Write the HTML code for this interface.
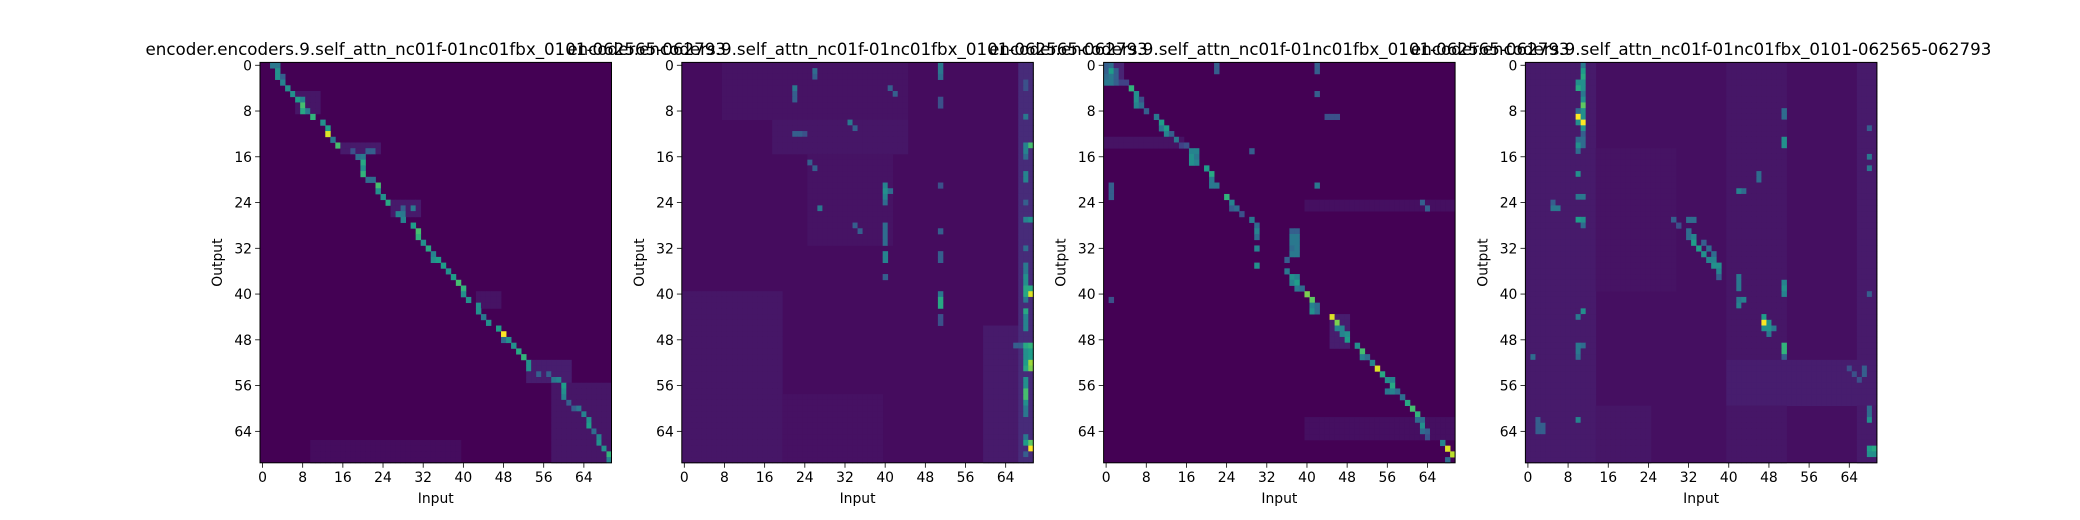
<!DOCTYPE html>
<html><head><meta charset="utf-8">
<style>
html,body{margin:0;padding:0;background:#fff;}
svg{display:block;font-family:"DejaVu Sans","Liberation Sans",sans-serif;}
</style></head>
<body>
<svg id="fig" width="2080" height="520" viewBox="0 0 2080 520" xmlns="http://www.w3.org/2000/svg"></svg>
<script>
// ---- data ----
const nRows = 70;
const nCols = 70;
const tickValues = [0, 8, 16, 24, 32, 40, 48, 56, 64];
const titleText = "encoder.encoders.9.self_attn_nc01f-01nc01fbx_0101-062565-062793";
const baseValues = [0.0, 0.03, 0.0, 0.04];
// blocks: [rowStart,rowEnd,colStart,colEnd,value]
const p1Blocks = [[5,9,7,12,0.06],[14,16,16,24,0.07],[24,27,26,32,0.07],[40,43,43,48,0.05],[52,56,53,62,0.08],[56,70,58,70,0.06],[66,70,10,40,0.03]];
const p2Blocks = [[0,10,8,45,0.05],[10,16,18,45,0.06],[16,32,25,42,0.05],[40,70,0,20,0.06],[46,70,60,68,0.07],[0,70,67,70,0.12],[58,70,20,40,0.045]];
const p3Blocks = [[0,4,0,4,0.1],[13,15,0,16,0.05],[44,50,45,49,0.08],[62,66,40,70,0.04],[24,26,40,70,0.04]];
const p4Blocks = [[0,70,0,14,0.07],[0,70,40,52,0.06],[52,60,40,70,0.08],[60,70,0,25,0.06],[15,40,14,30,0.05],[0,70,66,70,0.07]];
// cells: [row,col,value]
const p1Cells = [[0,2,0.4],[0,3,0.4],[1,3,0.5],[2,3,0.5],[2,4,0.3],[3,4,0.45],[4,5,0.5],[5,6,0.5],[6,7,0.55],[6,8,0.45],[7,8,0.7],[8,8,0.6],[8,9,0.4],[9,10,0.65],[10,12,0.5],[11,13,0.55],[12,13,0.95],[13,14,0.4],[14,15,0.7],[15,18,0.25],[15,21,0.3],[15,22,0.3],[16,19,0.35],[16,20,0.4],[17,20,0.6],[18,20,0.5],[19,20,0.65],[20,21,0.35],[20,22,0.35],[21,23,0.7],[22,23,0.5],[23,24,0.5],[24,25,0.6],[25,28,0.3],[25,30,0.4],[26,27,0.45],[26,28,0.4],[27,28,0.45],[28,30,0.55],[29,31,0.7],[30,31,0.65],[31,32,0.5],[32,33,0.6],[33,34,0.45],[34,34,0.5],[34,35,0.55],[35,36,0.55],[36,37,0.5],[37,38,0.55],[38,39,0.7],[39,40,0.65],[40,40,0.5],[41,41,0.5],[42,43,0.5],[43,43,0.5],[44,44,0.4],[45,45,0.5],[46,47,0.55],[47,48,1.0],[48,48,0.35],[48,49,0.5],[49,50,0.5],[50,51,0.6],[51,52,0.65],[52,53,0.5],[53,53,0.5],[54,55,0.3],[54,57,0.3],[55,58,0.4],[55,59,0.45],[56,60,0.55],[57,60,0.5],[58,60,0.45],[59,61,0.3],[60,62,0.3],[60,63,0.4],[61,64,0.45],[62,65,0.5],[63,65,0.55],[64,66,0.35],[65,67,0.45],[66,67,0.5],[67,68,0.5],[68,69,0.65],[69,69,0.45]];
const p2Cells = [[3,68,0.25],[4,68,0.25],[9,68,0.4],[14,68,0.45],[14,69,0.7],[15,68,0.45],[16,68,0.35],[19,68,0.45],[20,68,0.45],[24,68,0.3],[27,68,0.45],[27,69,0.5],[32,68,0.35],[35,68,0.4],[36,68,0.4],[37,68,0.5],[38,68,0.5],[39,68,0.6],[39,69,0.6],[40,68,0.6],[40,69,0.95],[41,68,0.4],[43,68,0.6],[44,68,0.45],[45,68,0.45],[46,68,0.45],[49,66,0.3],[49,67,0.3],[49,68,0.6],[49,69,0.65],[50,68,0.5],[50,69,0.55],[51,68,0.5],[51,69,0.55],[52,68,0.55],[52,69,0.85],[53,68,0.6],[53,69,0.8],[55,68,0.5],[56,68,0.5],[57,68,0.7],[58,68,0.7],[59,68,0.5],[60,68,0.4],[61,68,0.4],[65,68,0.4],[66,68,0.55],[66,69,0.75],[67,69,1.0],[68,68,0.3],[0,51,0.4],[1,51,0.4],[2,51,0.35],[6,51,0.25],[7,51,0.25],[21,51,0.25],[29,51,0.3],[33,51,0.3],[34,51,0.3],[40,51,0.4],[41,51,0.6],[42,51,0.6],[44,51,0.25],[45,51,0.25],[21,40,0.45],[22,40,0.5],[23,40,0.45],[22,41,0.35],[24,40,0.35],[28,40,0.35],[29,40,0.35],[30,40,0.35],[31,40,0.35],[33,40,0.45],[34,40,0.45],[37,40,0.3],[4,41,0.3],[5,42,0.3],[4,22,0.4],[5,22,0.3],[6,22,0.3],[1,26,0.35],[2,26,0.3],[10,33,0.4],[11,34,0.3],[12,22,0.3],[12,23,0.3],[12,24,0.25],[17,25,0.3],[18,26,0.3],[25,27,0.4],[28,34,0.3],[29,35,0.3]];
const p3Cells = [[0,0,0.3],[0,1,0.35],[0,22,0.3],[1,0,0.3],[1,1,0.55],[1,2,0.3],[1,22,0.3],[2,0,0.35],[2,1,0.4],[2,2,0.3],[3,0,0.4],[3,1,0.4],[3,2,0.3],[3,3,0.2],[3,4,0.2],[4,5,0.65],[5,6,0.5],[6,6,0.5],[6,7,0.25],[7,6,0.45],[7,7,0.35],[8,8,0.3],[9,10,0.4],[10,11,0.55],[11,11,0.4],[11,12,0.55],[12,12,0.45],[12,13,0.3],[13,14,0.4],[14,15,0.2],[14,16,0.25],[15,17,0.45],[15,18,0.45],[16,17,0.5],[16,18,0.4],[17,17,0.5],[17,18,0.45],[18,20,0.55],[19,21,0.6],[20,21,0.4],[21,21,0.4],[21,22,0.4],[23,24,0.65],[24,25,0.45],[25,25,0.3],[25,26,0.35],[26,27,0.25],[27,29,0.4],[28,30,0.35],[29,30,0.45],[30,30,0.35],[29,37,0.3],[29,38,0.3],[30,37,0.4],[30,38,0.4],[31,37,0.4],[31,38,0.4],[32,30,0.45],[32,37,0.35],[32,38,0.4],[33,37,0.4],[33,38,0.4],[34,36,0.3],[35,30,0.5],[36,36,0.4],[37,37,0.5],[37,38,0.45],[38,37,0.45],[38,38,0.55],[39,38,0.4],[39,39,0.35],[40,40,0.8],[41,41,0.75],[42,41,0.45],[42,42,0.35],[43,41,0.5],[43,42,0.35],[44,45,0.95],[45,46,0.8],[46,46,0.45],[46,47,0.45],[47,47,0.45],[47,48,0.5],[48,48,0.55],[49,50,0.5],[50,51,0.7],[51,51,0.45],[51,52,0.35],[52,53,0.45],[53,54,0.95],[54,55,0.6],[55,56,0.5],[55,57,0.45],[56,57,0.6],[57,56,0.4],[57,57,0.45],[57,58,0.35],[58,59,0.35],[59,60,0.6],[60,61,0.7],[61,62,0.65],[62,62,0.35],[62,63,0.35],[63,63,0.5],[64,63,0.35],[64,64,0.3],[65,64,0.25],[66,67,0.45],[67,68,0.95],[68,69,0.9],[69,68,0.35],[0,42,0.3],[1,42,0.3],[5,42,0.3],[21,42,0.4],[21,1,0.3],[22,1,0.3],[23,1,0.3],[41,1,0.25],[15,29,0.3],[9,44,0.25],[9,45,0.25],[9,46,0.25],[24,63,0.3],[25,64,0.3]];
const p4Cells = [[0,11,0.4],[1,11,0.55],[2,11,0.6],[3,10,0.5],[3,11,0.5],[4,10,0.6],[4,11,0.5],[5,11,0.4],[6,11,0.5],[7,11,0.75],[8,11,0.5],[8,10,0.35],[9,10,1.0],[9,11,0.5],[10,10,0.5],[10,11,1.0],[11,11,0.5],[12,11,0.3],[13,10,0.35],[13,11,0.35],[14,10,0.5],[14,11,0.35],[15,10,0.35],[19,10,0.5],[23,10,0.4],[23,11,0.4],[25,6,0.4],[27,10,0.55],[27,11,0.5],[28,11,0.35],[43,11,0.5],[44,10,0.4],[49,10,0.4],[49,11,0.35],[50,10,0.4],[51,10,0.35],[51,1,0.35],[62,10,0.45],[8,51,0.35],[9,51,0.35],[13,51,0.5],[14,51,0.5],[11,68,0.3],[16,68,0.4],[18,68,0.4],[40,68,0.3],[60,68,0.35],[61,68,0.35],[62,68,0.5],[67,68,0.55],[67,69,0.6],[68,68,0.5],[68,69,0.5],[27,29,0.3],[27,32,0.35],[27,33,0.35],[28,30,0.25],[29,32,0.35],[30,32,0.35],[30,33,0.45],[31,33,0.55],[31,35,0.3],[32,34,0.55],[32,36,0.35],[33,35,0.5],[33,37,0.35],[34,36,0.45],[34,37,0.45],[35,37,0.5],[35,38,0.5],[36,38,0.45],[37,38,0.3],[22,42,0.45],[22,43,0.35],[37,42,0.4],[38,42,0.4],[39,42,0.4],[41,42,0.4],[41,43,0.45],[42,42,0.45],[38,51,0.45],[39,51,0.5],[40,51,0.45],[44,47,0.55],[45,47,1.0],[45,48,0.5],[46,47,0.5],[46,48,0.5],[46,49,0.4],[47,48,0.4],[49,51,0.65],[50,51,0.65],[51,51,0.3],[19,46,0.35],[20,46,0.35],[25,5,0.4],[24,5,0.3],[62,2,0.3],[63,2,0.3],[63,3,0.3],[64,2,0.3],[64,3,0.3],[53,67,0.3],[54,67,0.3],[53,64,0.25],[54,65,0.25],[55,66,0.25]];
const allBlocks = [p1Blocks, p2Blocks, p3Blocks, p4Blocks];
const allCells = [p1Cells, p2Cells, p3Cells, p4Cells];

// ---- layout ----
const svg = document.getElementById('fig');
const NS = 'http://www.w3.org/2000/svg';
const axW = 351.5, axH = 400.4, axTop = 62.4, gap = 70.3, axLeft0 = 260;
const vir = [[68,1,84],[72,40,120],[62,73,137],[49,104,142],[38,130,142],[31,158,137],[53,183,121],[109,205,89],[180,222,44],[253,231,37]];
function viridis(v){
  v = Math.max(0, Math.min(1, v));
  const t = v * (vir.length - 1), i = Math.min(vir.length - 2, Math.floor(t)), f = t - i;
  const c = vir[i].map((a, k) => Math.round(a + (vir[i+1][k] - a) * f));
  return 'rgb(' + c.join(',') + ')';
}
function mk(tag, attrs, parent){
  const e = document.createElementNS(NS, tag);
  for (const k in attrs) e.setAttribute(k, attrs[k]);
  (parent || svg).appendChild(e);
  return e;
}
for (let p = 0; p < 4; p++){
  const x0 = axLeft0 + p * (axW + gap);
  const cw = axW / nCols, rh = axH / nRows;
  const xScale = c => x0 + c * cw;
  const yScale = r => axTop + r * rh;
  const g = mk('g', {});
  
  
  const grid = [];
  for (let r = 0; r < nRows; r++){ grid.push(new Array(nCols).fill(baseValues[p])); }
  allBlocks[p].forEach(b => { for (let r = b[0]; r < b[1]; r++) for (let c = b[2]; c < b[3]; c++) grid[r][c] = Math.max(grid[r][c], b[4]); });
  allCells[p].forEach(e => { grid[e[0]][e[1]] = e[2]; });
  const bg = mk('rect', {x: x0, y: axTop, width: axW, height: axH, fill: viridis(baseValues[p])}, g);
  
  
  for (let r = 0; r < nRows; r++) for (let c = 0; c < nCols; c++){
    if (grid[r][c] === baseValues[p]) continue;
    const cell = mk('rect', {x: xScale(c).toFixed(2), y: yScale(r).toFixed(2), width: (cw + 0.4).toFixed(2), height: (rh + 0.4).toFixed(2), fill: viridis(grid[r][c])}, g);
    
    
  }
  const frame = mk('rect', {x: x0, y: axTop, width: axW, height: axH, fill: 'none', stroke: '#000', 'stroke-width': 1}, g);
  
  
  tickValues.forEach(t => {
    const tx = xScale(t + 0.5), ty = yScale(t + 0.5);
    mk('line', {x1: tx, x2: tx, y1: axTop + axH, y2: axTop + axH + 4.9, stroke: '#000', 'stroke-width': 0.8}, g);
    const xl = mk('text', {x: tx, y: axTop + axH + 19, 'text-anchor': 'middle', 'font-size': 13.9, fill: '#000'}, g);
    xl.textContent = t;
    
    
    mk('line', {x1: x0 - 4.9, x2: x0, y1: ty, y2: ty, stroke: '#000', 'stroke-width': 0.8}, g);
    const yl = mk('text', {x: x0 - 8, y: ty + 5, 'text-anchor': 'end', 'font-size': 13.9, fill: '#000'}, g);
    yl.textContent = t;
    
    
  });
  const xt = mk('text', {x: x0 + axW / 2, y: 503, 'text-anchor': 'middle', 'font-size': 13.9, fill: '#000'}, g);
  xt.textContent = 'Input';
  
  
  const yt = mk('text', {x: 0, y: 0, 'text-anchor': 'middle', 'font-size': 13.9, fill: '#000', transform: 'translate(' + (x0 - 38) + ',' + (axTop + axH / 2) + ') rotate(-90)'}, g);
  yt.textContent = 'Output';
  
  
  const tt = mk('text', {x: x0 + axW / 2, y: 55, 'text-anchor': 'middle', 'font-size': 16.7, fill: '#000'}, g);
  tt.textContent = titleText;
  
  
}
</script>
</body></html>
